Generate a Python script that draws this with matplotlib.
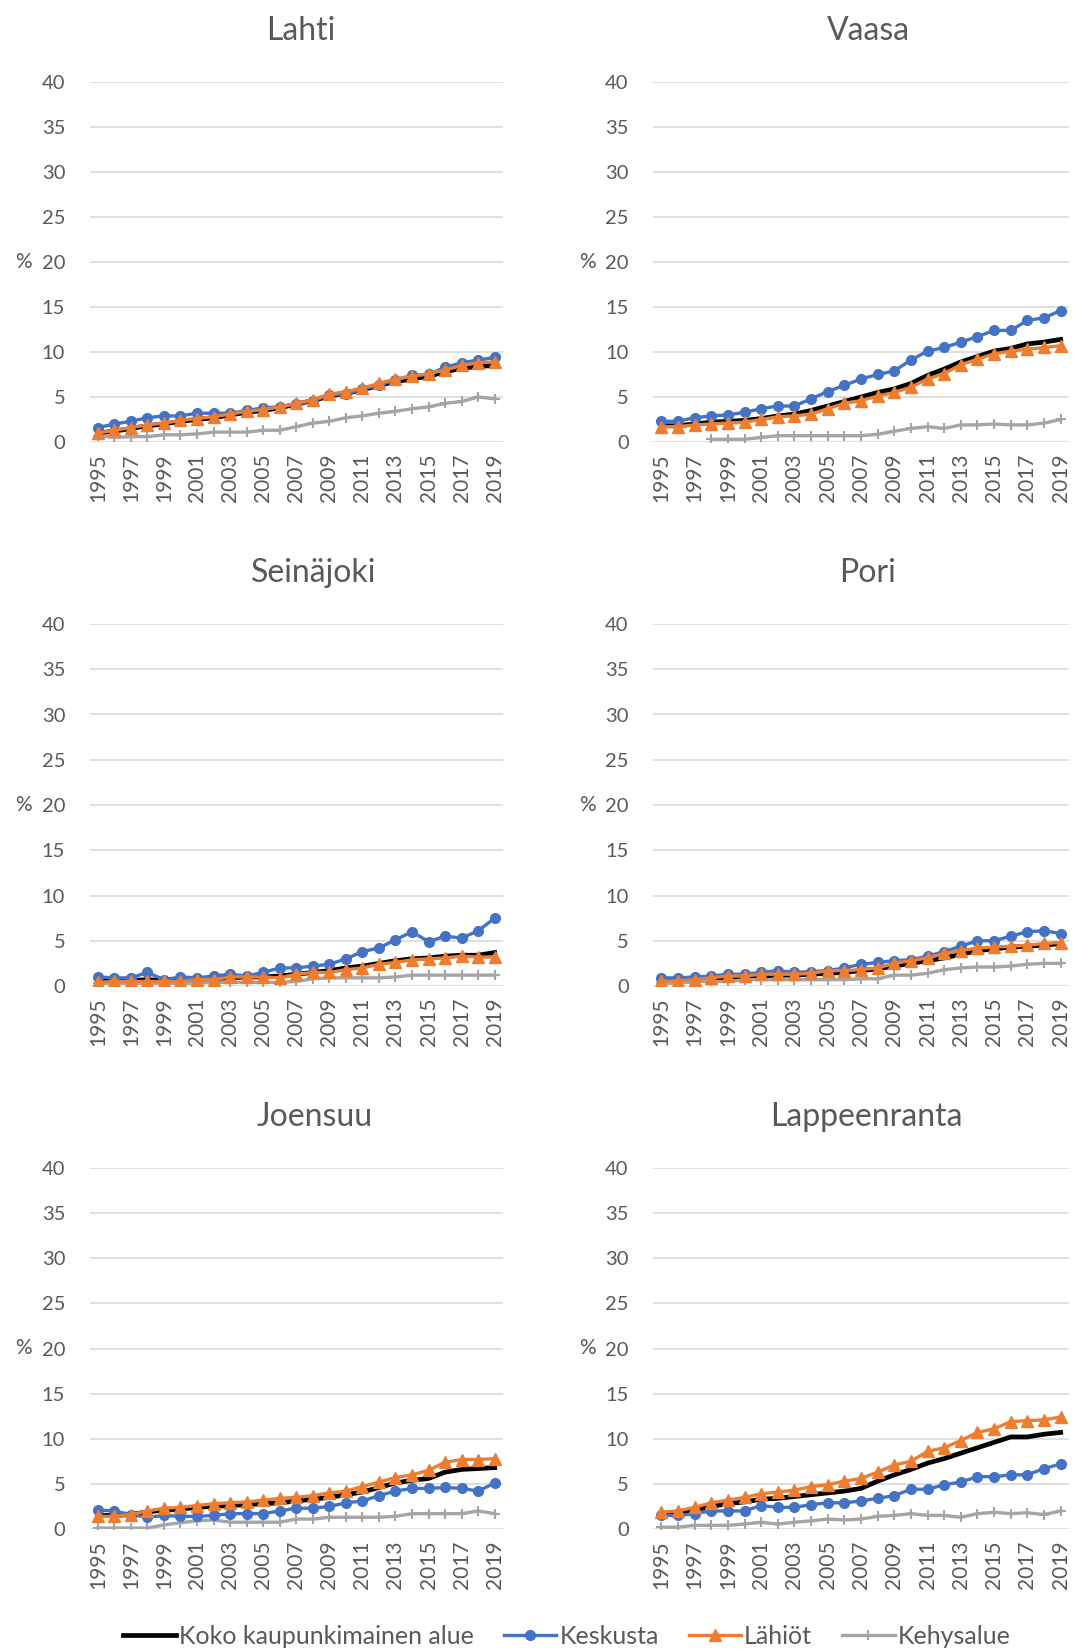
import numpy as np
import matplotlib
matplotlib.use("Agg")
import matplotlib.pyplot as plt
from matplotlib.lines import Line2D

plt.rcParams['font.family'] = ['Lato', 'DejaVu Sans']

years = list(range(1995, 2020))
nan = np.nan

# Lahti
lahti_koko = [1.0, 1.2, 1.5, 1.8, 2.0, 2.3, 2.5, 2.7, 3.0, 3.3, 3.5, 3.8, 4.2, 4.6, 5.1, 5.4, 5.8, 6.3, 6.7, 7.0, 7.3, 7.8, 8.2, 8.4, 8.5]
lahti_keskusta = [1.6, 2.0, 2.3, 2.7, 2.9, 2.9, 3.2, 3.2, 3.2, 3.5, 3.8, 3.9, 4.2, 4.6, 5.2, 5.3, 5.9, 6.3, 6.9, 7.4, 7.5, 8.3, 8.8, 9.1, 9.4]
lahti_lahiot = [1.0, 1.3, 1.6, 1.9, 2.1, 2.4, 2.6, 2.8, 3.1, 3.4, 3.6, 3.9, 4.3, 4.7, 5.3, 5.6, 6.0, 6.5, 7.0, 7.3, 7.6, 8.0, 8.5, 8.8, 8.9]
lahti_kehys = [0.7, 0.5, 0.6, 0.6, 0.8, 0.8, 0.9, 1.1, 1.1, 1.1, 1.3, 1.3, 1.7, 2.1, 2.3, 2.7, 2.9, 3.2, 3.4, 3.7, 3.9, 4.3, 4.5, 5.0, 4.8]

# Vaasa
vaasa_koko = [1.8, 1.8, 2.0, 2.2, 2.3, 2.4, 2.6, 2.9, 3.1, 3.5, 4.0, 4.5, 5.0, 5.5, 5.9, 6.5, 7.4, 8.1, 8.9, 9.5, 10.1, 10.4, 10.9, 11.1, 11.4]
vaasa_keskusta = [2.3, 2.3, 2.7, 2.9, 3.0, 3.3, 3.7, 4.0, 4.0, 4.8, 5.6, 6.3, 7.0, 7.5, 7.9, 9.1, 10.1, 10.5, 11.1, 11.7, 12.4, 12.4, 13.5, 13.8, 14.6]
vaasa_lahiot = [1.7, 1.7, 1.9, 2.0, 2.1, 2.2, 2.5, 2.8, 2.9, 3.1, 3.7, 4.3, 4.6, 5.1, 5.5, 6.1, 7.0, 7.6, 8.6, 9.2, 9.8, 10.1, 10.3, 10.5, 10.7]
vaasa_kehys = [nan, nan, nan, 0.3, 0.3, 0.3, 0.5, 0.7, 0.7, 0.7, 0.7, 0.7, 0.7, 0.85, 1.2, 1.5, 1.7, 1.5, 1.9, 1.9, 2.0, 1.9, 1.9, 2.1, 2.5]

# Seinäjoki
seinajoki_koko = [0.5, 0.6, 0.6, 0.7, 0.6, 0.6, 0.7, 0.8, 0.9, 1.0, 1.0, 1.1, 1.3, 1.5, 1.7, 2.0, 2.2, 2.5, 2.8, 3.0, 3.1, 3.3, 3.4, 3.4, 3.7]
seinajoki_keskusta = [1.0, 0.9, 0.9, 1.5, 0.7, 1.0, 0.9, 1.1, 1.3, 1.1, 1.5, 2.0, 2.0, 2.2, 2.4, 3.0, 3.8, 4.2, 5.1, 6.0, 4.9, 5.5, 5.3, 6.1, 7.5]
seinajoki_lahiot = [0.4, 0.5, 0.5, 0.5, 0.5, 0.5, 0.7, 0.7, 1.0, 1.0, 1.0, 0.9, 1.3, 1.5, 1.5, 1.8, 2.0, 2.4, 2.6, 2.9, 3.0, 3.1, 3.3, 3.2, 3.2]
seinajoki_kehys = [0.3, 0.3, 0.3, 0.3, 0.3, 0.3, 0.3, 0.4, 0.4, 0.4, 0.4, 0.4, 0.5, 0.8, 0.9, 0.9, 0.9, 0.9, 1.0, 1.2, 1.2, 1.2, 1.2, 1.2, 1.2]

# Pori
pori_koko = [0.5, 0.5, 0.6, 0.8, 0.9, 1.0, 1.1, 1.2, 1.2, 1.3, 1.4, 1.5, 1.7, 1.9, 2.2, 2.5, 2.8, 3.1, 3.5, 3.9, 4.1, 4.3, 4.4, 4.5, 4.7]
pori_keskusta = [0.9, 0.9, 1.0, 1.1, 1.3, 1.3, 1.5, 1.7, 1.5, 1.6, 1.7, 2.0, 2.4, 2.6, 2.8, 2.9, 3.3, 3.8, 4.4, 5.0, 5.0, 5.5, 6.0, 6.1, 5.8]
pori_lahiot = [0.55, 0.55, 0.7, 0.9, 1.1, 1.1, 1.3, 1.3, 1.3, 1.4, 1.7, 1.7, 1.8, 2.0, 2.5, 2.8, 3.1, 3.6, 3.9, 4.2, 4.3, 4.4, 4.5, 4.7, 4.8]
pori_kehys = [0.3, 0.3, 0.5, 0.5, 0.5, 0.7, 0.7, 0.7, 0.7, 0.7, 0.7, 0.7, 0.8, 0.8, 1.2, 1.2, 1.4, 1.8, 2.0, 2.1, 2.1, 2.2, 2.4, 2.5, 2.5]

# Joensuu
joensuu_koko = [1.5, 1.5, 1.6, 1.9, 2.1, 2.2, 2.4, 2.5, 2.6, 2.7, 2.8, 2.9, 3.1, 3.3, 3.5, 3.8, 4.1, 4.6, 5.1, 5.4, 5.6, 6.3, 6.6, 6.7, 6.8]
joensuu_keskusta = [2.1, 2.0, 1.6, 1.3, 1.5, 1.4, 1.4, 1.5, 1.7, 1.7, 1.7, 2.0, 2.3, 2.3, 2.5, 2.9, 3.1, 3.7, 4.2, 4.5, 4.5, 4.6, 4.5, 4.2, 5.1]
joensuu_lahiot = [1.4, 1.4, 1.6, 2.0, 2.3, 2.4, 2.6, 2.8, 2.9, 3.0, 3.2, 3.4, 3.5, 3.7, 4.0, 4.2, 4.7, 5.2, 5.7, 6.0, 6.5, 7.4, 7.7, 7.7, 7.8]
joensuu_kehys = [0.1, 0.1, 0.1, 0.1, 0.45, 0.7, 0.9, 1.0, 0.75, 0.75, 0.75, 0.75, 1.1, 1.1, 1.3, 1.3, 1.3, 1.3, 1.4, 1.7, 1.7, 1.7, 1.7, 2.0, 1.7]

# Lappeenranta
lappeenranta_koko = [1.7, 1.9, 2.1, 2.5, 2.8, 3.0, 3.3, 3.4, 3.6, 3.8, 4.0, 4.2, 4.5, 5.3, 6.0, 6.6, 7.3, 7.8, 8.4, 9.0, 9.6, 10.2, 10.2, 10.5, 10.7]
lappeenranta_keskusta = [1.5, 1.5, 1.7, 2.0, 2.0, 2.0, 2.6, 2.4, 2.4, 2.7, 2.9, 2.9, 3.1, 3.4, 3.7, 4.4, 4.4, 4.9, 5.2, 5.8, 5.8, 6.0, 6.0, 6.7, 7.2]
lappeenranta_lahiot = [1.85, 2.0, 2.4, 2.9, 3.2, 3.5, 3.9, 4.1, 4.3, 4.7, 4.9, 5.3, 5.6, 6.3, 7.1, 7.5, 8.6, 9.0, 9.8, 10.7, 11.1, 11.9, 12.0, 12.1, 12.4]
lappeenranta_kehys = [0.2, 0.2, 0.4, 0.4, 0.4, 0.55, 0.75, 0.55, 0.75, 0.9, 1.1, 1.0, 1.1, 1.4, 1.5, 1.7, 1.5, 1.5, 1.3, 1.7, 1.85, 1.7, 1.8, 1.6, 2.0]

series_names = ["Koko kaupunkimainen alue", "Keskusta", "Lähiöt", "Kehysalue"]

W, H = 1073, 1651
fig = plt.figure(figsize=(W / 100, H / 100), dpi=100)

TXT = '#595959'
colors = ['#000000', '#4472C4', '#ED7D31', '#A5A5A5']

# (title, title x in px, column, row, data)
panels = [
    ("Lahti", 301, 0, 0, [lahti_koko, lahti_keskusta, lahti_lahiot, lahti_kehys]),
    ("Vaasa", 868, 1, 0, [vaasa_koko, vaasa_keskusta, vaasa_lahiot, vaasa_kehys]),
    ("Seinäjoki", 314, 0, 1, [seinajoki_koko, seinajoki_keskusta, seinajoki_lahiot, seinajoki_kehys]),
    ("Pori", 868, 1, 1, [pori_koko, pori_keskusta, pori_lahiot, pori_kehys]),
    ("Joensuu", 315, 0, 2, [joensuu_koko, joensuu_keskusta, joensuu_lahiot, joensuu_kehys]),
    ("Lappeenranta", 866, 1, 2, [lappeenranta_koko, lappeenranta_keskusta, lappeenranta_lahiot, lappeenranta_kehys]),
]

col_x = [(89.5, 413.5), (653, 416)]
row_y = [(82, 442), (624, 986), (1168, 1529)]

x = np.arange(len(years))

for title, tx, c, r, data in panels:
    x0, w = col_x[c]
    top, bot = row_y[r]
    ax = fig.add_axes([x0 / W, 1 - bot / H, w / W, (bot - top) / H])

    koko, kesk, lahi, kehys = data
    ax.plot(x, koko, color=colors[0], lw=3.4, zorder=3)
    ax.plot(x, kesk, color=colors[1], lw=2.4, marker='o', ms=7, zorder=4)
    ax.plot(x, lahi, color=colors[2], lw=2.4, marker='^', ms=8, zorder=5)
    ax.plot(x, kehys, color=colors[3], lw=2.4, marker='+', ms=7, mew=1.5, zorder=3)

    ax.set_xlim(-0.5, len(years) - 0.5)
    ax.set_ylim(0, 40)
    ax.set_yticks(range(0, 41, 5))
    ax.set_xticks(x[::2])
    ax.set_xticklabels([str(y) for y in years[::2]], rotation=90)
    ax.tick_params(axis='y', length=0, pad=17.5, labelsize=14.5, labelcolor=TXT)
    ax.tick_params(axis='x', length=0, pad=8, labelsize=15, labelcolor=TXT)
    ax.grid(axis='y', color='#D9D9D9', lw=1.2, zorder=0)
    ax.set_axisbelow(True)
    for s in ax.spines.values():
        s.set_visible(False)

    ax.text(-66 / w, 0.5, '%', transform=ax.transAxes, ha='center', va='center',
            fontsize=15, color=TXT)
    fig.text(tx / W, 1 - (top - 42) / H, title, ha='center', va='baseline',
             fontsize=23, color=TXT)

handles = [
    Line2D([], [], color=colors[0], lw=3.4),
    Line2D([], [], color=colors[1], lw=2.4, marker='o', ms=7),
    Line2D([], [], color=colors[2], lw=2.4, marker='^', ms=8),
    Line2D([], [], color=colors[3], lw=2.4, marker='+', ms=7, mew=1.5),
]
leg = fig.legend(handles, series_names, loc='center', bbox_to_anchor=(567 / W, 1 - 1636 / H),
                 ncol=4, frameon=False, fontsize=18, handlelength=2.1,
                 handletextpad=0.12, columnspacing=1.2, borderpad=0, borderaxespad=0)
for t in leg.get_texts():
    t.set_color(TXT)

plt.savefig("out.png", dpi=100)
